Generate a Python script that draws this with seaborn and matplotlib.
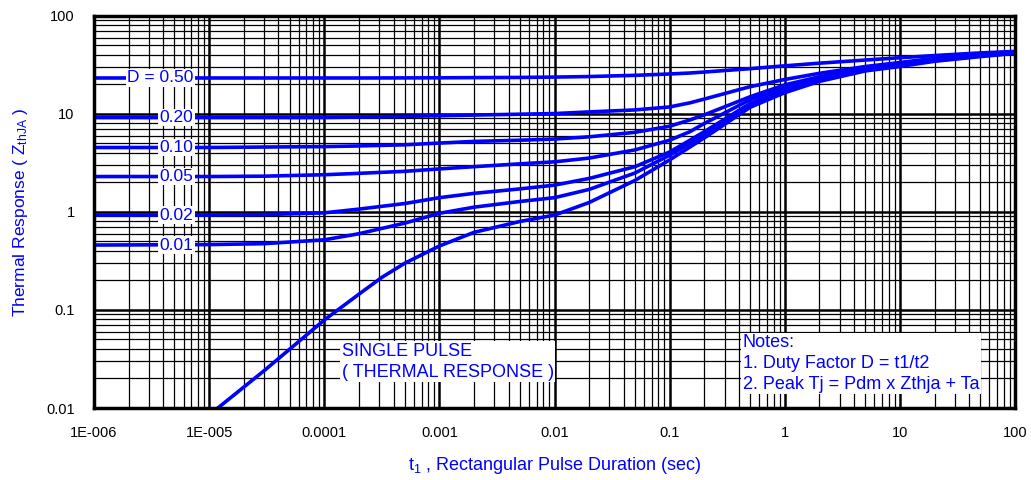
import matplotlib
matplotlib.use('Agg')
import matplotlib.pyplot as plt
import matplotlib.ticker as mticker
import numpy as np
import seaborn as sns

# values (log-log)
t_duty = [1e-6, 1e-5, 3e-5, 1e-4, 2e-4, 5e-4, 1e-3, 2e-3, 5e-3, 1e-2, 2e-2, 5e-2,
          0.1, 0.15, 0.2, 0.5, 1, 2, 5, 10, 20, 50, 100]
z_d50 = [23.3, 23.3, 23.3, 23.3, 23.3, 23.35, 23.4, 23.5, 23.6, 23.8, 24.1, 24.8,
         25.6, 26.2, 26.8, 29.0, 31.0, 33.0, 35.5, 37.5, 39.5, 42.0, 43.5]
z_d20 = [9.2, 9.2, 9.2, 9.2, 9.3, 9.45, 9.6, 9.75, 9.95, 10.1, 10.5, 11.0,
         11.8, 13.0, 14.2, 19.0, 22.5, 26.0, 30.5, 33.5, 37.0, 41.0, 43.0]
z_d10 = [4.55, 4.55, 4.6, 4.65, 4.72, 4.85, 5.05, 5.25, 5.4, 5.55, 5.85, 6.5,
         7.5, 8.7, 9.8, 15.0, 19.8, 24.0, 29.5, 33.0, 36.5, 40.5, 42.5]
z_d05 = [2.3, 2.3, 2.32, 2.4, 2.48, 2.6, 2.75, 2.9, 3.1, 3.25, 3.55, 4.3,
         5.4, 6.6, 8.0, 14.0, 18.7, 23.0, 29.0, 32.5, 36.0, 40.0, 42.0]
z_d02 = [0.93, 0.93, 0.94, 0.98, 1.07, 1.22, 1.40, 1.55, 1.72, 1.88, 2.2, 2.9,
         4.1, 5.4, 6.6, 12.8, 17.9, 22.5, 28.5, 32.0, 35.5, 39.5, 42.0]
z_d01 = [0.46, 0.465, 0.475, 0.52, 0.6, 0.77, 0.97, 1.12, 1.28, 1.4, 1.7, 2.5,
         3.8, 5.0, 6.2, 12.3, 17.3, 22.0, 28.0, 31.5, 35.0, 39.0, 42.0]

t_single = [1.19e-5, 3e-5, 1e-4, 2e-4, 3.16e-4, 5e-4, 1e-3, 2e-3, 5e-3, 1e-2, 2e-2, 5e-2,
            0.1, 0.15, 0.2, 0.5, 1, 2, 5, 10, 20, 50, 100]
z_single = [0.01, 0.024, 0.079, 0.145, 0.215, 0.3, 0.45, 0.62, 0.8, 0.93, 1.25, 2.1,
            3.4, 4.6, 5.7, 11.7, 16.5, 21.5, 27.5, 30.5, 34.5, 38.5, 41.5]

duty_labels = ['D = 0.50', '0.20', '0.10', '0.05', '0.02', '0.01']
duty_series = [z_d50, z_d20, z_d10, z_d05, z_d02, z_d01]

x_ticks = [1e-6, 1e-5, 1e-4, 1e-3, 1e-2, 0.1, 1, 10, 100]
x_ticklabels = ['1E-006', '1E-005', '0.0001', '0.001', '0.01', '0.1', '1', '10', '100']
y_ticks = [0.01, 0.1, 1, 10, 100]
y_ticklabels = ['0.01', '0.1', '1', '10', '100']

sns.set_style('white')
plt.rcParams['font.family'] = ['Liberation Sans', 'DejaVu Sans']
plt.rcParams['mathtext.default'] = 'regular'

fig = plt.figure(figsize=(10.31, 4.8), dpi=100)
ax = fig.add_axes([0.0912, 0.15, 0.8933, 0.8167])

blue = '#0000ff'
for z in duty_series:
    sns.lineplot(x=t_duty, y=z, ax=ax, color=blue, lw=2.6, estimator=None, sort=False)
sns.lineplot(x=t_single, y=z_single, ax=ax, color=blue, lw=2.6, estimator=None, sort=False)

ax.set_xscale('log')
ax.set_yscale('log')
ax.set_xlim(1e-6, 100)
ax.set_ylim(0.01, 100)

ax.xaxis.set_major_locator(mticker.FixedLocator(x_ticks))
ax.xaxis.set_major_formatter(mticker.FixedFormatter(x_ticklabels))
ax.yaxis.set_major_locator(mticker.FixedLocator(y_ticks))
ax.yaxis.set_major_formatter(mticker.FixedFormatter(y_ticklabels))
ax.xaxis.set_minor_locator(mticker.LogLocator(base=10, subs=np.arange(2, 10), numticks=20))
ax.yaxis.set_minor_locator(mticker.LogLocator(base=10, subs=np.arange(2, 10), numticks=20))
ax.xaxis.set_minor_formatter(mticker.NullFormatter())
ax.yaxis.set_minor_formatter(mticker.NullFormatter())

ax.grid(True, which='major', color='black', lw=1.8)
ax.grid(True, which='minor', color='black', lw=0.9)
ax.set_axisbelow(True)
for s in ax.spines.values():
    s.set_color('black')
    s.set_linewidth(2.5)
ax.tick_params(which='both', length=0)
ax.tick_params(axis='x', pad=13, labelsize=10.5, colors='black')
ax.tick_params(axis='y', pad=14, labelsize=10.5, colors='black')

# curve labels with white boxes
box = dict(facecolor='white', edgecolor='none', pad=1.0)
for lab, z in zip(duty_labels, duty_series):
    ax.text(7.3e-6, z[0], lab, color=blue, fontsize=12.5, ha='right', va='center',
            bbox=box, zorder=5)

ax.text(1.42e-4, 0.0297, 'SINGLE PULSE\n( THERMAL RESPONSE )', color=blue, fontsize=13,
        ha='left', va='center', linespacing=1.3, bbox=box, zorder=5)
ax.text(0.43, 0.0285, 'Notes:\n1. Duty Factor D = t1/t2\n2. Peak Tj = Pdm x Zthja + Ta',
        color=blue, fontsize=13, ha='left', va='center', linespacing=1.3, bbox=box, zorder=5)

ax.set_xlabel('t$_1$ , Rectangular Pulse Duration (sec)', color=blue, fontsize=13)
ax.set_ylabel('Thermal Response ( Z$_{thJA}$ )', color=blue, fontsize=12.5)
ax.xaxis.set_label_coords(0.5, -0.12)
ax.yaxis.set_label_coords(-0.069, 0.5)

fig.savefig('out.png', dpi=100)
